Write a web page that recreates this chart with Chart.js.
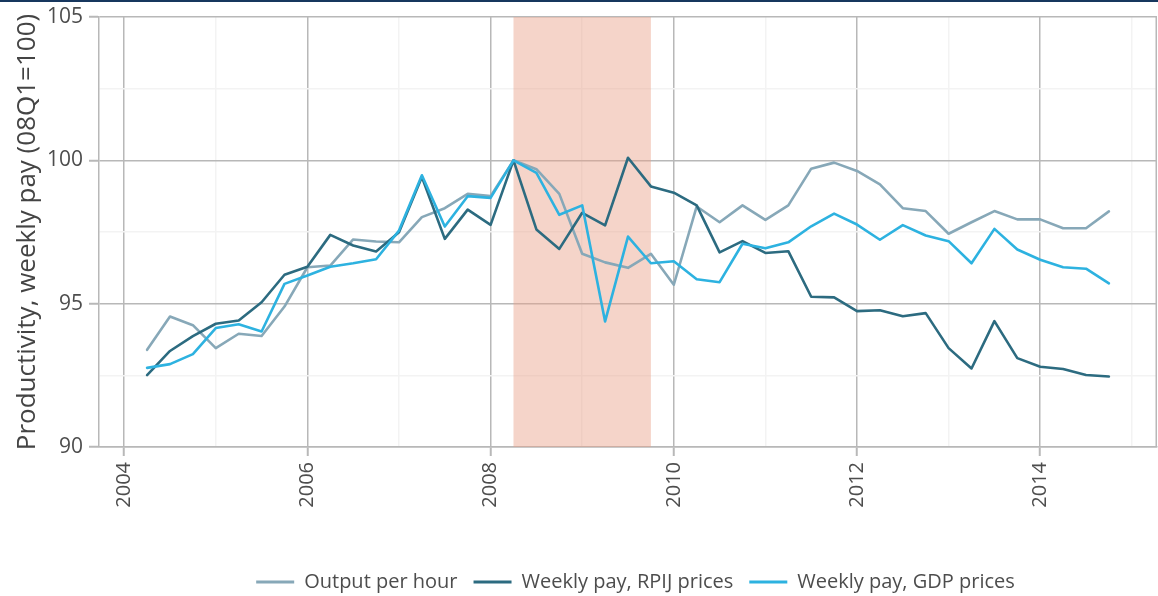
<!DOCTYPE html>
<html><head><meta charset="utf-8">
<script src="https://cdn.jsdelivr.net/npm/chart.js@4.4.1/dist/chart.umd.min.js"></script>
<style>
html,body{margin:0;padding:0;background:#fff;}
#wrap{position:relative;width:1158px;height:596px;}
#topbar{position:absolute;left:0;top:0;width:1158px;height:2px;background:#17375e;}
canvas{display:block;}
</style>
</head><body>
<div id="wrap"><canvas id="c" width="1158" height="596"></canvas><div id="topbar"></div></div>
<script>
const quarters = ['2004Q1','2004Q2','2004Q3','2004Q4','2005Q1','2005Q2','2005Q3','2005Q4',
  '2006Q1','2006Q2','2006Q3','2006Q4','2007Q1','2007Q2','2007Q3','2007Q4',
  '2008Q1','2008Q2','2008Q3','2008Q4','2009Q1','2009Q2','2009Q3','2009Q4',
  '2010Q1','2010Q2','2010Q3','2010Q4','2011Q1','2011Q2','2011Q3','2011Q4',
  '2012Q1','2012Q2','2012Q3','2012Q4','2013Q1','2013Q2','2013Q3','2013Q4',
  '2014Q1','2014Q2','2014Q3'];
const outputPerHour = [93.39,94.55,94.25,93.45,93.95,93.87,94.90,96.27,96.33,97.24,97.17,97.14,
  98.02,98.33,98.83,98.75,100.00,99.69,98.83,96.74,96.44,96.25,96.74,95.66,
  98.39,97.84,98.43,97.92,98.43,99.71,99.92,99.63,99.16,98.33,98.23,97.44,
  97.84,98.23,97.94,97.94,97.63,97.63,98.22];
const payRPIJ = [92.51,93.35,93.87,94.30,94.41,95.05,96.01,96.29,97.40,97.03,96.82,97.49,
  99.42,97.26,98.28,97.75,100.00,97.59,96.91,98.17,97.73,100.09,99.09,98.87,
  98.43,96.79,97.18,96.77,96.83,95.24,95.22,94.74,94.77,94.56,94.67,93.45,
  92.74,94.39,93.10,92.80,92.72,92.51,92.46];
const payGDP = [92.76,92.89,93.24,94.15,94.28,94.03,95.69,95.98,96.29,96.41,96.55,97.55,
  99.48,97.69,98.75,98.69,100.00,99.56,98.10,98.43,94.38,97.34,96.41,96.48,
  95.85,95.75,97.09,96.93,97.14,97.70,98.14,97.76,97.23,97.74,97.38,97.18,
  96.41,97.61,96.89,96.53,96.27,96.22,95.71];
const xTickYears = [2004,2005,2006,2007,2008,2009,2010,2011,2012,2013,2014,2015];
const yTickValues = [90,92.5,95,97.5,100,102.5,105];
const recessionStart = 2008.25;
const recessionEnd = 2009.75;

const q2x = q => parseInt(q.slice(0,4),10) + parseInt(q.slice(5),10) * 0.25;
const pts = arr => quarters.map((q,i) => ({x: q2x(q), y: arr[i]}));

const MAJOR = '#b8b8b8', MINOR = '#f3f3f3', TXT = '#4d4d4d';
const FONT = "'Open Sans', 'DejaVu Sans', sans-serif";

const panelPlugin = {
  id: 'panel',
  afterLayout(chart) {
    const lg = chart.legend;
    if (lg) { lg.left += 57; lg.right += 57; }
  },
  beforeDatasetsDraw(chart) {
    const {ctx, chartArea: a, scales: {x}} = chart;
    const x0 = x.getPixelForValue(recessionStart), x1 = x.getPixelForValue(recessionEnd);
    ctx.save();
    ctx.fillStyle = 'rgba(232,160,135,0.45)';
    ctx.fillRect(x0, a.top, x1 - x0, a.bottom - a.top);
    ctx.strokeStyle = MAJOR; ctx.lineWidth = 1.5;
    ctx.beginPath();
    ctx.moveTo(a.right - 0.75, a.top); ctx.lineTo(a.right - 0.75, a.bottom);
    ctx.stroke();
    ctx.restore();
  }
};

const ds = (label, data, color, order) => ({
  label, data: pts(data), borderColor: color, backgroundColor: color,
  borderWidth: 2.6, pointRadius: 0, tension: 0, fill: false, order,
  borderJoinStyle: 'round', borderCapStyle: 'round'
});

new Chart(document.getElementById('c'), {
  type: 'line',
  data: { datasets: [
    ds('Output per hour', outputPerHour, '#87a8b8', 3),
    ds('Weekly pay, RPIJ prices', payRPIJ, '#2c6b80', 2),
    ds('Weekly pay, GDP prices', payGDP, '#2db2e0', 1)
  ]},
  options: {
    responsive: false, animation: false, devicePixelRatio: 1,
    layout: { padding: { top: 17, left: 0, right: 1, bottom: -6 } },
    plugins: {
      tooltip: { enabled: false },
      legend: {
        position: 'bottom',
        labels: {
          font: { family: FONT, size: 20 }, color: TXT,
          boxWidth: 38, boxHeight: 3, padding: 16,
          sort: (a, b) => a.datasetIndex - b.datasetIndex,
          generateLabels: chart => chart.data.datasets.map((d, i) => ({
            text: d.label, fillStyle: d.borderColor, strokeStyle: d.borderColor,
            lineWidth: 0, hidden: false, datasetIndex: i, fontColor: TXT
          }))
        }
      }
    },
    scales: {
      x: {
        type: 'linear', min: 2003.725, max: 2015.275,
        afterBuildTicks: s => { s.ticks = xTickYears.map(v => ({value: v})); },
        afterFit: s => { s.height = 109; s.paddingLeft = 0; s.paddingRight = 0; },
        ticks: {
          autoSkip: false, maxRotation: 90, minRotation: 90, padding: 6,
          font: { family: FONT, size: 20 }, color: TXT,
          callback: v => (v % 2 === 0 ? String(v) : '')
        },
        grid: {
          color: c => (c.tick && c.tick.value % 2 === 0 ? MAJOR : MINOR),
          tickColor: c => (c.tick && c.tick.value % 2 === 0 ? MAJOR : 'rgba(0,0,0,0)'),
          lineWidth: 1.5, tickLength: 9, tickWidth: 2
        },
        border: { display: true, color: MAJOR, width: 1.5 }
      },
      y: {
        min: 90, max: 105,
        afterBuildTicks: s => { s.ticks = yTickValues.map(v => ({value: v})); },
        afterFit: s => { s.width = 99; s.paddingTop = 0; s.paddingBottom = 0; },
        ticks: {
          padding: 6, font: { family: FONT, size: 21 }, color: TXT,
          callback: v => (v % 5 === 0 ? String(v) : '')
        },
        grid: {
          color: c => (c.tick && c.tick.value % 5 === 0 ? MAJOR : MINOR),
          tickColor: c => (c.tick && c.tick.value % 5 === 0 ? MAJOR : 'rgba(0,0,0,0)'),
          lineWidth: 1.5, tickLength: 10, tickWidth: 2
        },
        border: { display: true, color: MAJOR, width: 1.5 },
        title: {
          display: true, text: 'Productivity, weekly pay (08Q1=100)',
          font: { family: FONT, size: 26 }, color: '#444',
          padding: { top: 12, bottom: 0 }
        }
      }
    }
  },
  plugins: [panelPlugin]
});
</script>
</body></html>
